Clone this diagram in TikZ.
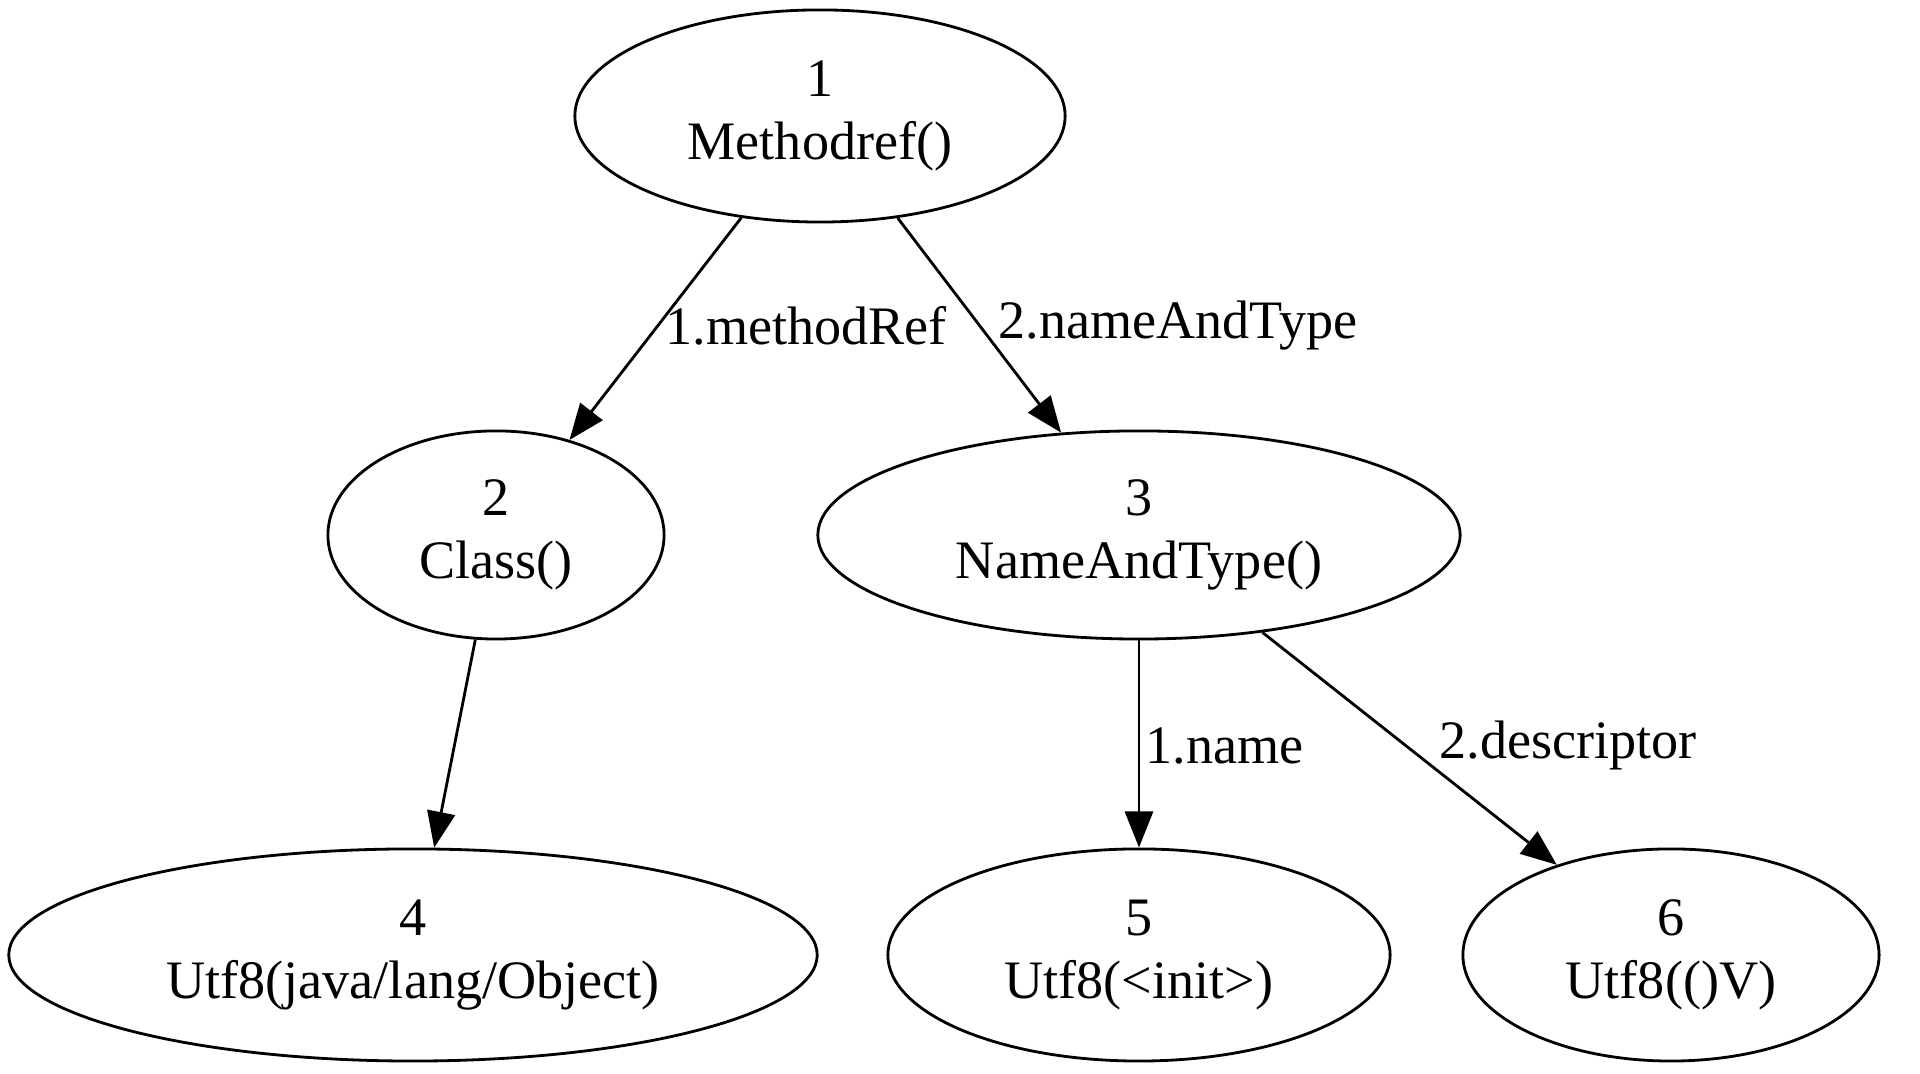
\documentclass[tikz,border=0pt]{standalone}
\usepackage{fontspec}
\setmainfont{Liberation Serif}
\usepackage{tikz}
\usetikzlibrary{arrows.meta,positioning,shapes.geometric}

\begin{document}
\begin{tikzpicture}[x=0.01cm,y=0.01cm,
	cp/.style={
		draw, ellipse, line width=0.8pt, inner sep=0pt, minimum height=2.12cm,
		align=center, font=\fontsize{15.4}{17.8}\selectfont
	},
	lbl/.style={anchor=west, inner sep=0pt, font=\fontsize{15.4}{17.8}\selectfont},
	ref/.style={line width=0.8pt, -{Triangle[length=0.36cm,width=0.28cm]}}
	]
	\useasboundingbox (0,0) rectangle (1920,1074);
	\node[cp,minimum width=4.9cm] (c1) at (820,958) {1\\Methodref()};
	\node[cp,minimum width=3.36cm,minimum height=2.08cm] (c2) at (496,539) {2\\Class()};
	\node[cp,minimum width=6.42cm,minimum height=2.08cm] (c3) at (1139,539) {3\\NameAndType()};
	\node[cp,minimum width=8.08cm] (c4) at (413,119) {4\\Utf8(java/lang/Object)};
	\node[cp,minimum width=5.02cm] (c5) at (1139,119) {5\\Utf8(<init>)};
	\node[cp,minimum width=4.16cm] (c6) at (1671,119) {6\\Utf8(()V)};

	\foreach \a/\b in {c1/c2,c1/c3,c2/c4,c3/c5,c3/c6}
	\draw[ref] (\a) -- (\b);

	% edge labels
	\node[lbl] (l12) at (665,748) {1.methodRef};
	\node[lbl] (l13) at (998,748) {2.nameAndType};
	\node[lbl] (l35) at (1145,328) {1.name};
	\node[lbl] (l36) at (1439,328) {2.descriptor};
\end{tikzpicture}
\end{document}
